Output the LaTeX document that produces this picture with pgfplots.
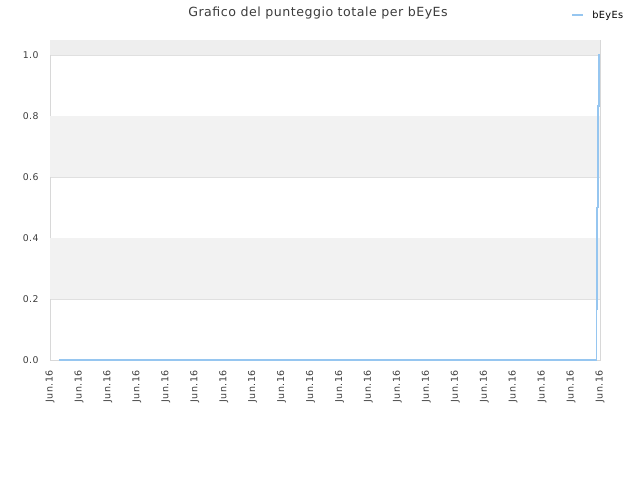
\documentclass[border=0pt]{standalone}
\usepackage{pgfplots}
\pgfplotsset{compat=1.18}
\usepackage{fontspec}
\setmainfont{DejaVu Sans}[LetterSpace=4]
\definecolor{lineblue}{RGB}{150,198,240}
\definecolor{bandgray}{RGB}{242,242,242}
\definecolor{topgray}{RGB}{238,238,238}
\definecolor{gridgray}{RGB}{224,224,224}
\definecolor{framegray}{RGB}{216,216,216}
\definecolor{txtgray}{RGB}{60,60,60}

\begin{document}
\begin{tikzpicture}
\path (0pt,0pt) rectangle (640pt,480pt);
\node[font=\fontsize{12.6}{14}\selectfont, text=txtgray] at (318pt,467pt) {Grafico del punteggio totale per bEyEs};
\begin{axis}[
  at={(50pt,120pt)}, anchor=south west,
  width=550pt, height=320pt, scale only axis,
  xmin=0, xmax=550,
  ymin=0, ymax=1.0492,
  axis line style={framegray},
  tick style={draw=none},
  xtick={0,28.947,57.895,86.842,115.789,144.737,173.684,202.632,231.579,260.526,289.474,318.421,347.368,376.316,405.263,434.211,463.158,492.105,521.053,550},
  xticklabels={Jun.16,Jun.16,Jun.16,Jun.16,Jun.16,Jun.16,Jun.16,Jun.16,Jun.16,Jun.16,Jun.16,Jun.16,Jun.16,Jun.16,Jun.16,Jun.16,Jun.16,Jun.16,Jun.16,Jun.16},
  xticklabel style={rotate=90, anchor=east, font=\fontsize{9.5}{10}\selectfont, text=txtgray, xshift=-7pt},
  ytick={0,0.2,0.4,0.6,0.8,1.0},
  yticklabel style={font=\fontsize{9.3}{10}\selectfont, text=txtgray, xshift=-8pt},
  /pgf/number format/.cd, fixed, fixed zerofill, precision=1, assume math mode=true,
  /pgfplots/.cd,
  ymajorgrids, grid style={gridgray},
  legend style={at={(0.947,1.078)}, anchor=west, draw=none, fill=none,
    font=\fontsize{9.8}{10}\selectfont, inner sep=0pt},
  legend image code/.code={\draw[#1, line width=2.2pt] (0pt,0pt) -- (11pt,0pt);},
  legend cell align=left,
]
\addplot[fill=bandgray, draw=none, forget plot] coordinates {(0,0.2) (550,0.2) (550,0.4) (0,0.4)} -- cycle;
\addplot[fill=bandgray, draw=none, forget plot] coordinates {(0,0.6) (550,0.6) (550,0.8) (0,0.8)} -- cycle;
\addplot[fill=topgray, draw=none, forget plot] coordinates {(0,1.0) (550,1.0) (550,1.0492) (0,1.0492)} -- cycle;
\addplot[const plot, lineblue, line width=1.5pt, mark=none] coordinates {
  (9,0) (546.4,0.1667) (547.2,0.5) (548.2,0.8333) (549.2,1.0) (549.4,1.0)
};
\legend{\hspace*{6pt}bEyEs}
\end{axis}
\end{tikzpicture}
\end{document}
